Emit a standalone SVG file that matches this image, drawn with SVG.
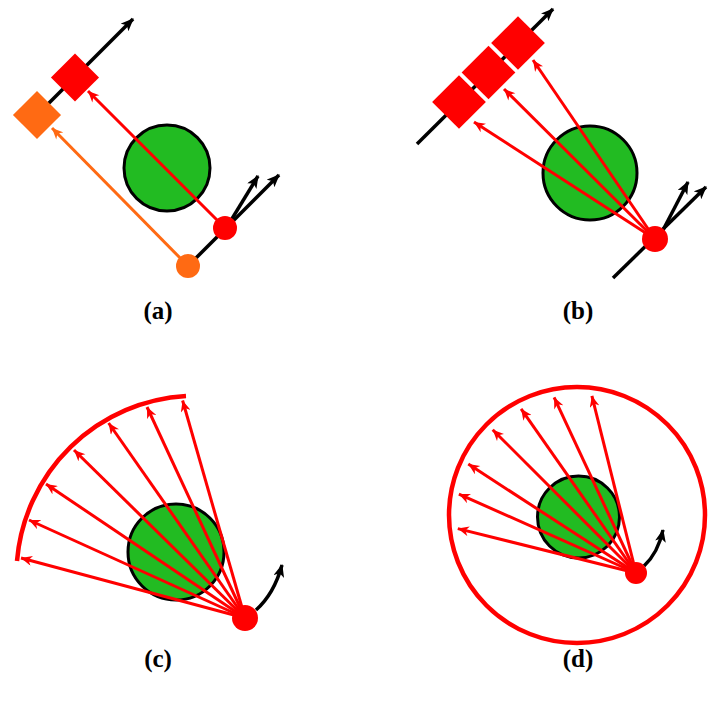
<svg xmlns="http://www.w3.org/2000/svg" width="708" height="705" viewBox="0 0 708 705">
<style>
.blk{stroke:#000;stroke-width:3.5;fill:none}
.red{stroke:#f00;stroke-width:3;fill:none}
.org{stroke:#ff6a13;stroke-width:3;fill:none}
.obj{fill:#22bb22;stroke:#000;stroke-width:3}
.lbl{font-family:"Liberation Serif","Times New Roman",serif;font-weight:bold;font-size:25px;text-anchor:middle;fill:#000}
</style>
<defs>
<marker id="ab" viewBox="0 0 12 10" refX="11" refY="5" markerWidth="13" markerHeight="11" markerUnits="userSpaceOnUse" orient="auto"><path d="M0,0 L12,5 L0,10 L3,5 z" fill="#000"/></marker>
<marker id="ar" viewBox="0 0 10 9" refX="10" refY="4.5" markerWidth="12" markerHeight="10" markerUnits="userSpaceOnUse" orient="auto"><path d="M0,0 L10,4.5 L0,9 L3,4.5 z" fill="#f00"/></marker>
<marker id="ao" viewBox="0 0 10 9" refX="10" refY="4.5" markerWidth="12" markerHeight="10" markerUnits="userSpaceOnUse" orient="auto"><path d="M0,0 L10,4.5 L0,9 L3,4.5 z" fill="#ff6a13"/></marker>
</defs>

<!-- Panel (a) -->
<g id="panel-a">
  <g id="a-obstacle"><circle class="obj" cx="167" cy="168" r="43"/></g>
  <g id="a-axes">
    <line class="blk" x1="37" y1="115" x2="133" y2="19" marker-end="url(#ab)"/>
    <line class="blk" x1="188" y1="266" x2="279" y2="175" marker-end="url(#ab)"/>
    <line class="blk" x1="230" y1="222" x2="258" y2="176" marker-end="url(#ab)"/>
  </g>
  <g id="a-rx-red"><rect x="-17" y="-17" width="34" height="34" fill="#f00" transform="translate(75 77.5) rotate(45)"/></g>
  <g id="a-rx-orange"><rect x="-17" y="-17" width="34" height="34" fill="#ff6a13" transform="translate(37 115) rotate(45)"/></g>
  <g id="a-connectors">
    <line class="red" x1="225" y1="228" x2="88" y2="91" marker-end="url(#ar)"/>
    <line class="org" x1="188" y1="266" x2="52" y2="128" marker-end="url(#ao)"/>
  </g>
  <g id="a-tx-red"><circle cx="225" cy="228" r="12" fill="#f00"/></g>
  <g id="a-tx-orange"><circle cx="188" cy="266" r="12" fill="#ff6a13"/></g>
  <text class="lbl" x="158" y="319">(a)</text>
</g>

<!-- Panel (b) -->
<g id="panel-b">
  <g id="b-obstacle"><circle class="obj" cx="590" cy="173" r="47"/></g>
  <g id="b-axes">
    <line class="blk" x1="417" y1="144" x2="553" y2="9" marker-end="url(#ab)"/>
    <line class="blk" x1="613" y1="278" x2="706" y2="187" marker-end="url(#ab)"/>
    <line class="blk" x1="662" y1="232" x2="688" y2="182" marker-end="url(#ab)"/>
  </g>
  <g id="b-rx1"><rect x="-19" y="-19" width="38" height="38" fill="#f00" transform="translate(459 102) rotate(45)"/></g>
  <g id="b-rx2"><rect x="-19" y="-19" width="38" height="38" fill="#f00" transform="translate(488.5 72.5) rotate(45)"/></g>
  <g id="b-rx3"><rect x="-19" y="-19" width="38" height="38" fill="#f00" transform="translate(518 43) rotate(45)"/></g>
  <g id="b-connectors">
    <line class="red" x1="655" y1="239" x2="474" y2="122" marker-end="url(#ar)"/>
    <line class="red" x1="655" y1="239" x2="504" y2="89" marker-end="url(#ar)"/>
    <line class="red" x1="655" y1="239" x2="533" y2="60" marker-end="url(#ar)"/>
  </g>
  <g id="b-tx"><circle cx="655" cy="239" r="13" fill="#f00"/></g>
  <text class="lbl" x="578" y="319">(b)</text>
</g>

<!-- Panel (c) -->
<g id="panel-c">
  <g id="c-obstacle"><circle class="obj" cx="176" cy="552" r="48"/></g>
  <g id="c-connectors">
    <path d="M17 561 A180 180 0 0 1 186 396" fill="none" stroke="#f00" stroke-width="4.5"/>
    <line class="red" x1="245" y1="618" x2="21" y2="558" marker-end="url(#ar)"/>
    <line class="red" x1="245" y1="618" x2="29" y2="520" marker-end="url(#ar)"/>
    <line class="red" x1="245" y1="618" x2="46" y2="484" marker-end="url(#ar)"/>
    <line class="red" x1="245" y1="618" x2="74" y2="450" marker-end="url(#ar)"/>
    <line class="red" x1="245" y1="618" x2="108.6" y2="423" marker-end="url(#ar)"/>
    <line class="red" x1="245" y1="618" x2="147" y2="407" marker-end="url(#ar)"/>
    <line class="red" x1="245" y1="618" x2="182.6" y2="400.5" marker-end="url(#ar)"/>
    <path class="blk" d="M256 610 Q274 594 282 565" marker-end="url(#ab)"/>
  </g>
  <g id="c-tx"><circle cx="245" cy="618" r="13" fill="#f00"/></g>
  <text class="lbl" x="158" y="667">(c)</text>
</g>

<!-- Panel (d) -->
<g id="panel-d">
  <g id="d-obstacle"><circle class="obj" cx="578.5" cy="517" r="41"/></g>
  <g id="d-connectors">
    <circle cx="577" cy="515" r="128" fill="none" stroke="#f00" stroke-width="4.5"/>
    <line class="red" x1="636" y1="573" x2="457.8" y2="528.6" marker-end="url(#ar)"/>
    <line class="red" x1="636" y1="573" x2="458.9" y2="494.1" marker-end="url(#ar)"/>
    <line class="red" x1="636" y1="573" x2="468.3" y2="464.1" marker-end="url(#ar)"/>
    <line class="red" x1="636" y1="573" x2="492.7" y2="429.7" marker-end="url(#ar)"/>
    <line class="red" x1="636" y1="573" x2="521.1" y2="408.8" marker-end="url(#ar)"/>
    <line class="red" x1="636" y1="573" x2="554.1" y2="397.3" marker-end="url(#ar)"/>
    <line class="red" x1="636" y1="573" x2="591.9" y2="395.9" marker-end="url(#ar)"/>
    <path class="blk" d="M644 566 Q658 553 663 530" marker-end="url(#ab)"/>
  </g>
  <g id="d-tx"><circle cx="636" cy="573" r="11" fill="#f00"/></g>
  <text class="lbl" x="578" y="667">(d)</text>
</g>
</svg>
